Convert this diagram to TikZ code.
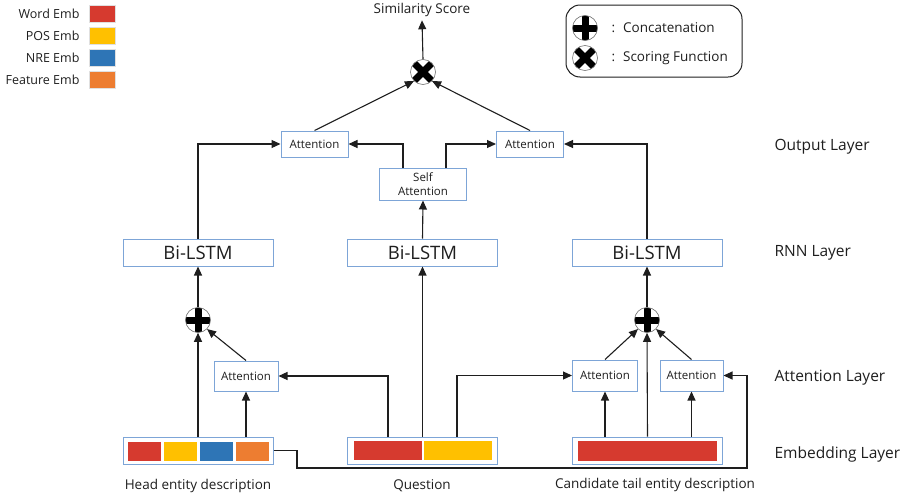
\documentclass[tikz,border=0pt]{standalone}
\usepackage{fontspec}
\setmainfont{Open Sans}
\usetikzlibrary{arrows.meta}

\definecolor{embred}{RGB}{214,58,47}
\definecolor{embyellow}{RGB}{255,192,0}
\definecolor{embblue}{RGB}{46,117,182}
\definecolor{emborange}{RGB}{237,125,49}
\definecolor{boxblue}{RGB}{125,165,215}
\definecolor{ink}{RGB}{30,30,30}

\begin{document}
\begin{tikzpicture}[x=1pt,y=-1pt,
  every node/.style={text=ink},
  box/.style={draw=boxblue, line width=1pt, fill=white, inner sep=0pt, align=center},
  attbox/.style={box, font=\fontsize{11.5}{13}\selectfont},
  lstmbox/.style={box, minimum width=150, minimum height=27, font=\fontsize{18.5}{20}\selectfont},
  embbox/.style={box, minimum width=150, minimum height=27},
  swatch/.style={inner sep=0pt, draw=none},
  keyswatch/.style={inner sep=0pt, draw=black!12, line width=0.6pt, minimum width=26, minimum height=17},
  conn/.style={line width=1.1pt, draw=ink},
  arr/.style={conn, -{Triangle[length=9pt,width=8pt]}},
  opcirc/.style={circle, minimum size=25, inner sep=0pt, fill=white, draw=black!55, line width=0.6pt},
  concat/.style={opcirc, path picture={
      \draw[line width=7pt, black]
        ([yshift=-13pt]path picture bounding box.center) -- ([yshift=13pt]path picture bounding box.center)
        ([xshift=-13pt]path picture bounding box.center) -- ([xshift=13pt]path picture bounding box.center);}},
  scoring/.style={opcirc, path picture={
      \draw[line width=7pt, black]
        ([shift={(-9pt,-9pt)}]path picture bounding box.center) -- ([shift={(9pt,9pt)}]path picture bounding box.center)
        ([shift={(-9pt,9pt)}]path picture bounding box.center) -- ([shift={(9pt,-9pt)}]path picture bounding box.center);}},
  keytext/.style={font=\fontsize{12.5}{14}\selectfont, anchor=east},
  captext/.style={font=\fontsize{13.5}{15}\selectfont},
  layertext/.style={font=\fontsize{15.5}{17}\selectfont, anchor=west},
]
\useasboundingbox (0,0) rectangle (907,498);

% embedding colour key
\node[keytext] (kw) at (83,14) {Word Emb};
\node[keyswatch, fill=embred] (kws) at (102,14) {};
\node[keytext] (kp) at (83,36) {POS Emb};
\node[keyswatch, fill=embyellow] (kps) at (102,36) {};
\node[keytext] (kn) at (83,58) {NRE Emb};
\node[keyswatch, fill=embblue] (kns) at (102,58) {};
\node[keytext] (kf) at (83,80) {Feature Emb};
\node[keyswatch, fill=emborange] (kfs) at (102,80) {};

% operator key
\node[draw=ink, line width=1pt, rounded corners=14pt, minimum width=176, minimum height=72, inner sep=0pt] (opkey) at (654,41) {};
\node[concat] (kcat) at (585,28) {};
\node[scoring] (kscore) at (585,58) {};
\node[captext, anchor=west] (kcatt) at (608,28) {:\hspace{8pt}Concatenation};
\node[captext, anchor=west] (kscoret) at (608,58) {:\hspace{8pt}Scoring Function};

% output
\node[captext] (sim) at (422,10) {Similarity Score};
\node[scoring] (score) at (423,72) {};

% output layer
\node[attbox, minimum width=67, minimum height=26] (oattL) at (314.5,144) {Attention};
\node[attbox, minimum width=67, minimum height=26] (oattR) at (530,144) {Attention};
\node[attbox, minimum width=87, minimum height=32, font=\fontsize{11.5}{14}\selectfont] (satt) at (423,184) {Self\\Attention};

% RNN layer
\node[lstmbox] (lstmL) at (198,252.5) {Bi-LSTM};
\node[lstmbox] (lstmM) at (422.5,252.5) {Bi-LSTM};
\node[lstmbox] (lstmR) at (647,252.5) {Bi-LSTM};

% concatenation operators
\node[concat] (catL) at (198,320) {};
\node[concat] (catR) at (647,320) {};

% attention layer
\node[attbox, minimum width=64, minimum height=30] (aL) at (246,376) {Attention};
\node[attbox, minimum width=65, minimum height=31] (aC1) at (605,375.5) {Attention};
\node[attbox, minimum width=63, minimum height=31] (aC2) at (691.5,375.5) {Attention};

% embedding layer
\node[embbox] (embH) at (198,450.5) {};
\node[swatch, fill=embred, minimum width=33, minimum height=19] (hw) at (144.5,451) {};
\node[swatch, fill=embyellow, minimum width=33, minimum height=19] (hp) at (180.5,451) {};
\node[swatch, fill=embblue, minimum width=33, minimum height=19] (hn) at (216.5,451) {};
\node[swatch, fill=emborange, minimum width=33, minimum height=19] (hf) at (252,451) {};

\node[embbox] (embQ) at (422.5,450.5) {};
\node[swatch, fill=embred, minimum width=68, minimum height=19] (qw) at (387.5,450.5) {};
\node[swatch, fill=embyellow, minimum width=68, minimum height=19] (qp) at (457.5,450.5) {};

\node[embbox] (embC) at (647.5,450.5) {};
\node[swatch, fill=embred, minimum width=139, minimum height=20] (cw) at (647.5,451) {};

% captions
\node[captext] (hcap) at (198,486) {Head entity description};
\node[captext] (qcap) at (422,486) {Question};
\node[captext] (ccap) at (655,485) {Candidate tail entity description};

% layer names
\node[layertext] (lout) at (771,147) {Output Layer};
\node[layertext] (lrnn) at (771,253) {RNN Layer};
\node[layertext] (latt) at (771,378) {Attention Layer};
\node[layertext] (lemb) at (771,454) {Embedding Layer};

% connectors: output
\draw[arr] (score.north) -- (sim.south);
\draw[arr] (oattL.north) -- (score.225);
\draw[arr] (oattR.north) -- (score.-45);
\draw[arr] ([xshift=-20pt]satt.north) |- (oattL.east);
\draw[arr] ([xshift=23pt]satt.north) |- (oattR.west);
\draw[arr] (lstmL.north) |- (oattL.west);
\draw[arr] (lstmR.north) |- (oattR.east);
\draw[arr] (lstmM.north) -- (satt.south);

% connectors: concatenation into RNN
\draw[arr] (catL.north) -- (lstmL.south);
\draw[arr] (catR.north) -- (lstmR.south);

% connectors: head entity branch
\draw[arr] (embH.north) -- (catL.south);
\draw[arr] (embH.north -| aL.south) -- (aL.south);
\draw[arr] (aL.north) -- (catL.-45);

% connectors: question branch
\draw[arr] ([xshift=-34.5pt]embQ.north) |- (aL.east);
\draw[arr] (embQ.north) -- (lstmM.south);
\draw[arr] ([xshift=34.5pt]embQ.north) |- (aC1.west);

% connectors: candidate branch
\draw[arr] (embC.north) -- (catR.south);
\draw[arr] (embC.north -| aC1.south) -- (aC1.south);
\draw[arr] (embC.north -| aC2.south) -- (aC2.south);
\draw[arr] (aC1.north) -- (catR.225);
\draw[arr] (aC2.north) -- (catR.-45);

% head entity link to the candidate attention
\coordinate (lk1) at (297,468);
\coordinate (lk2) at (747,468);
\draw[arr] (embH.east) -| (lk1) -- (lk2) |- (aC2.east);
\end{tikzpicture}
\end{document}
